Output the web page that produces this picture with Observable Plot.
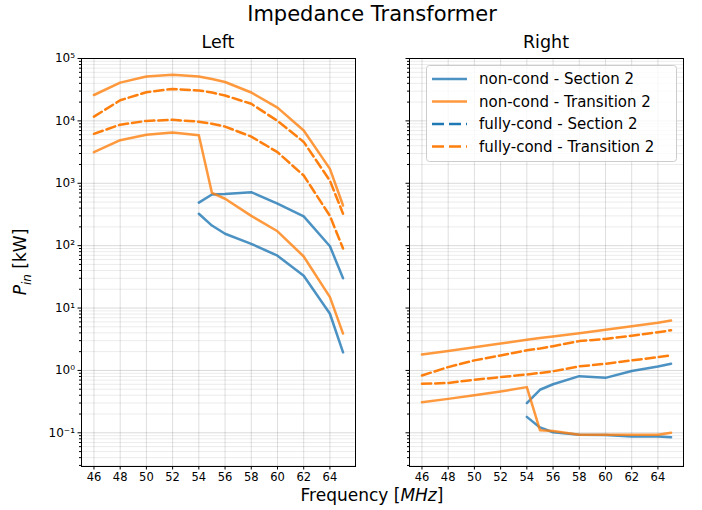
<!DOCTYPE html>
<html><head><meta charset="utf-8">
<script src="https://cdn.jsdelivr.net/npm/d3@7"></script>
<script src="https://cdn.jsdelivr.net/npm/@observablehq/plot@0.6"></script>
<style>
body{margin:0;background:#fff;font-family:"DejaVu Sans",sans-serif;}
#wrap{position:relative;width:702px;height:510px;overflow:hidden;background:#fff}
.abs{position:absolute;white-space:nowrap;color:#000}
</style></head><body><div id="wrap"></div>
<script>
// ---- data ----
const freq = [46,48,50,52,54,55,56,58,60,62,64,65];
const secFreq = [54,55,56,58,60,62,64,65];

// Left panel
const leftNonCondTransHi = [26000,41000,51500,55000,51500,47000,42000,28500,16300,7000,1700,440];
const leftNonCondTransLo = [3150,4900,6000,6500,5900,700,565,300,170,67,15,3.9];
const leftFullyCondTransHi = [11700,21400,28800,32500,30800,28500,25500,18800,10000,4600,1100,325];
const leftFullyCondTransLo = [6200,8700,10000,10400,9700,9000,8100,5600,3150,1330,300,90];
const leftNonCondSecHi = [490,660,670,720,470,295,98,30];
const leftNonCondSecLo = [325,210,155,107,69,33,8.1,1.95];

// Right panel
const rightNonCondTransHi = [1.8,2.05,2.35,2.7,3.1,3.3,3.5,3.95,4.5,5.1,5.8,6.3];
const rightNonCondTransLo = [0.31,0.35,0.40,0.46,0.54,0.11,0.107,0.093,0.093,0.093,0.093,0.10];
const rightFullyCondTransHi = [0.83,1.13,1.45,1.74,2.1,2.25,2.45,2.95,3.2,3.6,4.1,4.4];
const rightFullyCondTransLo = [0.61,0.63,0.71,0.78,0.86,0.91,0.97,1.16,1.28,1.45,1.63,1.74];
const rightNonCondSecHi = [0.30,0.49,0.60,0.81,0.76,0.98,1.16,1.28];
const rightNonCondSecLo = [0.18,0.122,0.102,0.093,0.092,0.087,0.087,0.085];

const legendLabels = ["non-cond - Section 2","non-cond - Transition 2","fully-cond - Section 2","fully-cond - Transition 2"];
const xTicks = [46,48,50,52,54,56,58,60,62,64];
const yMajor = [0.1,1,10,100,1000,10000,100000];

// ---- helpers ----
const BLUE = "#1f77b4", ORANGE = "#ff7f0e";
const sup = {"-1":"⁻¹","0":"⁰","1":"¹","2":"²","3":"³","4":"⁴","5":"⁵"};
const yMinor = [];
for (let d = -2; d <= 4; d++) for (let k = 2; k <= 9; k++) yMinor.push(k * Math.pow(10, d));
const yDomain = [Math.pow(10, -1.54), 1e5];
const xDomain = [45.05, 65.95];

function rows(xs, ys, key) { return xs.map((x, i) => ({x, y: ys[i], key})); }

function panel(cfg) {
  const solidSec = [...rows(secFreq, cfg.secHi, "a"), ...rows(secFreq, cfg.secLo, "b")];
  const solidTrans = [...rows(freq, cfg.transHi, "a"), ...rows(freq, cfg.transLo, "b")];
  const dashTrans = [...rows(freq, cfg.fTransHi, "a"), ...rows(freq, cfg.fTransLo, "b")];
  const minors = yMinor.filter(v => v >= yDomain[0] && v <= yDomain[1]);
  return Plot.plot({
    width: cfg.width, height: 470,
    marginLeft: cfg.ml, marginRight: cfg.mr, marginTop: 28, marginBottom: 34,
    style: {fontFamily: "DejaVu Sans, sans-serif", fontSize: "11.5px", background: "transparent", color: "#000"},
    x: {domain: xDomain},
    y: {type: "log", domain: yDomain},
    marks: [
      Plot.gridY(minors, {stroke: "#000", strokeOpacity: 0.08}),
      Plot.gridY(yMajor, {stroke: "#000", strokeOpacity: 0.15}),
      Plot.gridX(xTicks, {stroke: "#000", strokeOpacity: 0.13}),
      Plot.line(solidSec, {x: "x", y: "y", z: "key", stroke: BLUE, strokeOpacity: 0.8, strokeWidth: 2.5}),
      Plot.line(solidTrans, {x: "x", y: "y", z: "key", stroke: ORANGE, strokeOpacity: 0.8, strokeWidth: 2.5}),
      Plot.line(dashTrans, {x: "x", y: "y", z: "key", stroke: ORANGE, strokeWidth: 2.5, strokeDasharray: "9.25,4"}),
      Plot.axisY(yMajor, {tickSize: 3.5, tickPadding: 3, stroke: "#000",
        tickFormat: cfg.labels ? (d => "10" + sup[String(Math.round(Math.log10(d)))]) : (() => ""),
        fontSize: 12, label: null}),
      Plot.axisY(minors, {tickSize: 2, stroke: "#000", tickFormat: () => "", label: null}),
      Plot.axisX(xTicks, {tickSize: 3.5, tickPadding: 3, stroke: "#000", label: null, fontSize: 11.5}),
      Plot.frame({stroke: "#000", strokeWidth: 1})
    ]
  });
}

const wrap = document.getElementById("wrap");
const left = panel({width: 370, ml: 81, mr: 15, labels: true,
  secHi: leftNonCondSecHi, secLo: leftNonCondSecLo,
  transHi: leftNonCondTransHi, transLo: leftNonCondTransLo,
  fTransHi: leftFullyCondTransHi, fTransLo: leftFullyCondTransLo});
const right = panel({width: 307, ml: 14, mr: 19, labels: false,
  secHi: rightNonCondSecHi, secLo: rightNonCondSecLo,
  transHi: rightNonCondTransHi, transLo: rightNonCondTransLo,
  fTransHi: rightFullyCondTransHi, fTransLo: rightFullyCondTransLo});
left.style.position = "absolute"; left.style.left = "0px"; left.style.top = "30px";
right.style.position = "absolute"; right.style.left = "395px"; right.style.top = "30px";
wrap.appendChild(left); wrap.appendChild(right);

function addText(html, css) {
  const d = document.createElement("div");
  d.className = "abs"; d.innerHTML = html;
  Object.assign(d.style, css);
  wrap.appendChild(d);
  return d;
}
// Titles
addText("Impedance Transformer", {left: "372px", top: "2px", transform: "translateX(-50%)", fontSize: "21px"});
addText("Left", {left: "218px", top: "32px", transform: "translateX(-50%)", fontSize: "17.5px"});
addText("Right", {left: "546px", top: "32px", transform: "translateX(-50%)", fontSize: "17.5px"});
addText('<i>P</i><sub style="font-size:12px;font-style:italic">in</sub> [kW]', {left: "22px", top: "262px", transform: "translate(-50%,-50%) rotate(-90deg)", fontSize: "17px"});
addText('Frequency [<i>MHz</i>]', {left: "372px", top: "487px", transform: "translateX(-50%)", fontSize: "17px", lineHeight: "17px"});

// Legend
const legendStyles = [
  {c: BLUE, o: 0.8, dash: null}, {c: ORANGE, o: 0.8, dash: null},
  {c: BLUE, o: 1, dash: "9.25,4"}, {c: ORANGE, o: 1, dash: "9.25,4"}
];
const ns = "http://www.w3.org/2000/svg";
const lg = document.createElementNS(ns, "svg");
lg.setAttribute("width", 252); lg.setAttribute("height", 98);
Object.assign(lg.style, {position: "absolute", left: "426px", top: "65px"});
const box = document.createElementNS(ns, "rect");
box.setAttribute("x", 0.5); box.setAttribute("y", 0.5); box.setAttribute("width", 250); box.setAttribute("height", 96);
box.setAttribute("rx", 3); box.setAttribute("fill", "#fff"); box.setAttribute("fill-opacity", 0.8); box.setAttribute("stroke", "#ccc");
lg.appendChild(box);
legendLabels.forEach((lab, i) => {
  const y = 14 + i * 22.5;
  const ln = document.createElementNS(ns, "line");
  ln.setAttribute("x1", 6); ln.setAttribute("x2", 41); ln.setAttribute("y1", y); ln.setAttribute("y2", y);
  ln.setAttribute("stroke", legendStyles[i].c); ln.setAttribute("stroke-opacity", legendStyles[i].o);
  ln.setAttribute("stroke-width", 2.5);
  if (legendStyles[i].dash) ln.setAttribute("stroke-dasharray", "12,5");
  lg.appendChild(ln);
  const t = document.createElementNS(ns, "text");
  t.setAttribute("x", 53); t.setAttribute("y", y); t.setAttribute("dy", "0.35em");
  t.setAttribute("font-size", 15); t.setAttribute("font-family", "DejaVu Sans, sans-serif");
  t.textContent = lab;
  lg.appendChild(t);
});
wrap.appendChild(lg);
</script>
</body></html>
